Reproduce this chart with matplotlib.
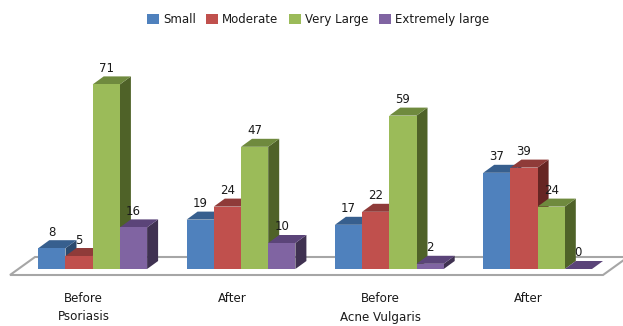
import numpy as np
import matplotlib.pyplot as plt
from matplotlib.patches import Polygon, Patch

plt.rcParams['font.family'] = ['DejaVu Sans']

groups = ['Before\nPsoriasis', 'After', 'Before\nAcne Vulgaris', 'After']
small = [8, 19, 17, 37]
moderate = [5, 24, 22, 39]
very_large = [71, 47, 59, 24]
extremely_large = [16, 10, 2, 0]

series_names = ['Small', 'Moderate', 'Very Large', 'Extremely large']
series = [small, moderate, very_large, extremely_large]

# front, top and side shade of each series
front_cols = ['#4f81bd', '#c0504d', '#9bbb59', '#8064a2']
top_cols = ['#375f8e', '#8f3b39', '#6f8a3e', '#5b4479']
side_cols = ['#2c4a6e', '#662523', '#4f6228', '#3f3151']

W, H = 623, 326
PX_X = 148.3   # pixels per group
PX_Y = 2.6     # pixels per unit
X0 = 92.7      # pixel x of first group centre
Y0 = 269       # pixel y of value 0

def px(x, y):
    return (x - X0) / PX_X, (Y0 - y) / PX_Y

fig = plt.figure(figsize=(W / 100, H / 100), dpi=100)
ax = fig.add_axes([0, 0, 1, 1])
ax.set_xlim(px(0, 0)[0], px(W, 0)[0])
ax.set_ylim(px(0, H)[1], px(0, 0)[1])
ax.axis('off')

# floor of the chart
floor = [px(10, 275), px(603, 275), px(628, 257), px(35, 257)]
ax.add_patch(Polygon(floor, closed=True, fc='white', ec='#a6a6a6', lw=1.5, zorder=1))

bar_w = 27.2 / PX_X
dx = 11 / PX_X
dy = 8 / PX_Y
z = 2

for g in range(len(groups)):
    for s in range(len(series)):
        val = series[s][g]
        left = g + (s - 2) * bar_w
        right = left + bar_w
        side = [(right, 0), (right + dx, dy), (right + dx, val + dy), (right, val)]
        top = [(left, val), (right, val), (right + dx, val + dy), (left + dx, val + dy)]
        ax.add_patch(Polygon(side, closed=True, fc=side_cols[s], ec='none', zorder=z))
        ax.add_patch(Polygon(top, closed=True, fc=top_cols[s], ec='none', zorder=z + 0.1))
        ax.bar(left, val, width=bar_w, align='edge', color=front_cols[s], zorder=z + 0.2)
        z += 1
        ax.text(left + bar_w / 2, val + dy + 8 / PX_Y, str(val), ha='center', va='center',
                fontsize=8.5, color='#1a1a1a', zorder=100)

# category labels sit a little left of the group centre
for g, label in enumerate(groups):
    lines = label.split('\n')
    x = g - 9 / PX_X
    ax.text(x, px(0, 299)[1], lines[0], ha='center', va='center', fontsize=8.6, color='#1a1a1a')
    if len(lines) > 1:
        ax.text(x, px(0, 317)[1], lines[1], ha='center', va='center', fontsize=8.6, color='#1a1a1a')

handles = [Patch(fc=c, ec='none') for c in front_cols]
leg = ax.legend(handles, series_names, ncol=4, frameon=False, fontsize=8.5,
                loc='center', bbox_to_anchor=(318 / W, 1 - 19.5 / H),
                handlelength=1.0, handleheight=1.0, handletextpad=0.35, columnspacing=0.9,
                labelcolor='#1a1a1a')

fig.savefig('out.png', dpi=100)
